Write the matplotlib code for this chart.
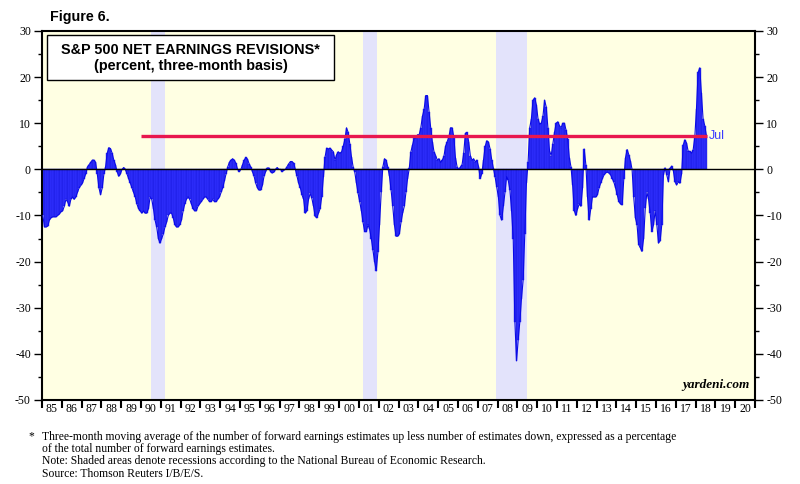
import numpy as np
import matplotlib
matplotlib.use('Agg')
import matplotlib.pyplot as plt
from matplotlib.patches import Rectangle

plt.rcParams['axes.unicode_minus'] = False

# Monatswerte (Prozent, Drei-Monats-Basis), Jan 1985 bis Jul 2018
revisions = {
    1985: [-10, -12.5, -12.5, -12.3, -11, -10.5, -10.3, -10.3, -10.3, -10, -9.7, -9.2],
    1986: [-9, -8, -6.5, -7, -8, -6.5, -6, -6.5, -6, -5, -4, -3.5],
    1987: [-3, -2, -1, 0.5, 1, 1.5, 2, 2, 1.5, -1, -4, -5.5],
    1988: [-4, -1, 0.5, 3.5, 4.7, 4.5, 3.5, 2, 1, -0.5, -1.5, -1],
    1989: [0, 0.4, 0, -1, -2, -3, -4, -5, -6, -7.5, -8.5, -9],
    1990: [-9.5, -9, -9.5, -9.5, -8.5, -6, -6.5, -8.5, -11, -12.5, -15, -16],
    1991: [-15, -14, -12.5, -11.5, -10, -9.5, -9.5, -10.5, -12, -12.5, -12.5, -12],
    1992: [-11, -9, -7.5, -6.5, -6, -6.5, -7.5, -8.5, -9, -9, -8, -7.5],
    1993: [-7, -6.5, -6, -6, -6.5, -7, -7, -6.5, -7, -7, -6.5, -6],
    1994: [-5, -4, -2.5, -1, 0.5, 1.5, 2, 2.3, 2, 1.3, 0, -0.5],
    1995: [0, 1, 2, 2.6, 2.2, 1.2, 0.5, -0.5, -1.5, -3, -4, -4.5],
    1996: [-4.5, -3.5, -1.5, -0.5, 0.3, 0.3, -0.5, -0.8, -0.6, 0, 0.4, 0],
    1997: [0, -0.5, -0.2, 0, 0.6, 1.2, 1.7, 1.7, 1.3, 0, -1.5, -3],
    1998: [-4, -5.5, -6.5, -9.5, -9, -6.5, -5.2, -6.3, -8, -10.2, -10.5, -9.5],
    1999: [-8.5, -5.9, -1.6, 2.7, 4.6, 4.4, 4.6, 4.2, 3.8, 2, 3.2, 3.8],
    2000: [3.5, 3.8, 5, 6.5, 9, 8, 5.5, 2.7, 0.5, -0.6, -3, -5.2],
    2001: [-7, -9, -11.5, -13.5, -13.5, -12, -13, -15, -17.5, -20, -22, -18],
    2002: [-12, -5, 0.5, 2.3, 2, 0.5, -1.5, -4.5, -8, -12, -14.5, -14.5],
    2003: [-14, -11.5, -9.5, -8, -5, -2, 0.2, 3.8, 5.3, 6.8, 6.8, 7.5],
    2004: [7.5, 9, 11.5, 13, 16, 16, 12.5, 9, 6, 3.8, 3, 2],
    2005: [2.3, 1.5, 2, 2.8, 5, 6, 7, 9, 9, 7, 2.5, 0.5],
    2006: [0, 0.5, 1, 3.5, 7.8, 8, 6, 3, 2, 2.3, 1.6, 2],
    2007: [0.6, -2, -0.9, 2, 5, 6.2, 5.9, 4.4, 2, 0.2, -1.6, -3.8],
    2008: [-6, -10, -11, -8, -5, -1.6, -2.4, -4.5, -9, -15, -33, -41.5],
    2009: [-37, -33, -28, -24, -14, -3, 1.5, 9, 11, 15, 15.5, 14],
    2010: [11, 9.8, 10, 11.5, 15, 13.5, 9, 4, 3, 5.5, 8, 10],
    2011: [10.3, 9.5, 9, 10, 10, 8.5, 6.5, 2.5, 0.5, -3.5, -9, -10],
    2012: [-8.5, -7.5, -8, -4, 4.4, 1, -6, -11, -8.5, -6, -6, -6],
    2013: [-5.5, -4, -3, -2, -1.2, -0.8, -0.6, -0.8, -1.2, -2, -2.8, -4],
    2014: [-5.5, -7, -7.5, -7.7, -2, 2.5, 4.3, 3.2, 1.8, 0, -6, -10.5],
    2015: [-12, -16.3, -17, -17.8, -15, -8.4, -5, -6.5, -9.5, -13.5, -12, -9],
    2016: [-12, -16, -15.5, -12, -1.2, 0.3, -1.2, -2.7, 0.2, 0.7, -0.3, -2.7],
    2017: [-3.4, -2.7, -3, -1, 5.3, 6.4, 5.7, 3.9, 3.9, 3.5, 4.2, 7],
    2018: [13, 21, 22, 16.5, 11, 9.5, 7.4],
}

# Rezessionen (NBER), als Dezimaljahre
recessions = [(1990.5, 1991.2), (2001.2, 2001.9), (2007.92, 2009.5)]

# Referenzlinie (aktueller Wert Jul 2018)
ref_start = 1990.0
ref_level = 7.2

year_labels = [f'{y % 100:02d}' for y in range(1985, 2021)]

footnotes = [
    'Three-month moving average of the number of forward earnings estimates up less number of estimates down, expressed as a percentage',
    'of the total number of forward earnings estimates.',
    'Note: Shaded areas denote recessions according to the National Bureau of Economic Research.',
    'Source: Thomson Reuters I/B/E/S.',
]

# Zeitachse aufbauen
t, vals = [], []
for year, months in revisions.items():
    for m, v in enumerate(months):
        t.append(year + (m + 0.5) / 12)
        vals.append(v)
t = np.array(t)
vals = np.array(vals)

serif = 'Liberation Serif'
sans = 'Liberation Sans'

fig = plt.figure(figsize=(8, 4.84), dpi=100)
ax = fig.add_axes([0.0525, 0.1736, 0.8913, 0.7624])
ax.set_facecolor('#ffffe3')

for a, b in recessions:
    ax.axvspan(a, b, color='#e3e3fb', lw=0, zorder=1)

ax.bar(t, vals, width=1 / 12, color='#3030ff', edgecolor='#1414d8', linewidth=0.25, zorder=2)
ax.plot(t, vals, color='#0a0ae6', lw=0.8, zorder=3)
ax.axhline(0, color='black', lw=1.0, zorder=4)

ax.plot([ref_start, t[-1] + 0.04], [ref_level, ref_level], color='#e8174f', lw=2.4,
        solid_capstyle='butt', zorder=5)
ax.text(t[-1] + 0.15, ref_level, 'Jul', color='#3b3bff', fontsize=9, family=sans,
        ha='left', va='center', zorder=6)

ax.set_xlim(1985, 2021)
ax.set_ylim(-50, 30)

# Achsen
for s in ax.spines.values():
    s.set_linewidth(1.5)
ax.set_yticks(np.arange(-50, 31, 10))
ax.set_yticks(np.arange(-45, 30, 10), minor=True)
ax.tick_params(axis='y', which='both', left=True, right=True, labelleft=True, labelright=True,
               direction='out', width=1.0, labelsize=8.5, pad=2)
ax.tick_params(axis='y', which='major', length=6)
ax.tick_params(axis='y', which='minor', length=3)
for lab in ax.get_yticklabels():
    lab.set_family(serif)

ax.set_xticks(np.arange(1985, 2022, 1))
ax.set_xticklabels([])
ax.set_xticks(np.arange(1985.5, 2021, 1), minor=True)
ax.set_xticklabels(year_labels, minor=True, family=serif, fontsize=8.5)
ax.tick_params(axis='x', which='major', direction='out', length=6, width=1.5)
ax.tick_params(axis='x', which='minor', length=0, pad=2)

# Titelbox
box = Rectangle((0.007, 0.867), 0.403, 0.121, transform=ax.transAxes, facecolor='white',
                edgecolor='black', lw=1.0, zorder=7)
ax.add_patch(box)
ax.text(0.2085, 0.949, 'S&P 500 NET EARNINGS REVISIONS*', transform=ax.transAxes,
        ha='center', va='center', fontsize=10.4, fontweight='bold', family=sans, zorder=8)
ax.text(0.2085, 0.906, '(percent, three-month basis)', transform=ax.transAxes,
        ha='center', va='center', fontsize=10.4, fontweight='bold', family=sans, zorder=8)

ax.text(0.993, 0.025, 'yardeni.com', transform=ax.transAxes, ha='right', va='bottom',
        fontsize=9.5, fontweight='bold', fontstyle='italic', family=serif, zorder=8)

fig.text(50 / 800, 1 - 17 / 484, 'Figure 6.', ha='left', va='center', fontsize=10.3,
         fontweight='bold', family=sans)

fig.text(28 / 800, 1 - 436 / 484, '*', ha='left', va='center', fontsize=8.4, family=serif)
for i, line in enumerate(footnotes):
    fig.text(42 / 800, 1 - (437 + 12.2 * i) / 484, line, ha='left', va='center',
             fontsize=8.4, family=serif)

fig.savefig('out.png', dpi=100)
